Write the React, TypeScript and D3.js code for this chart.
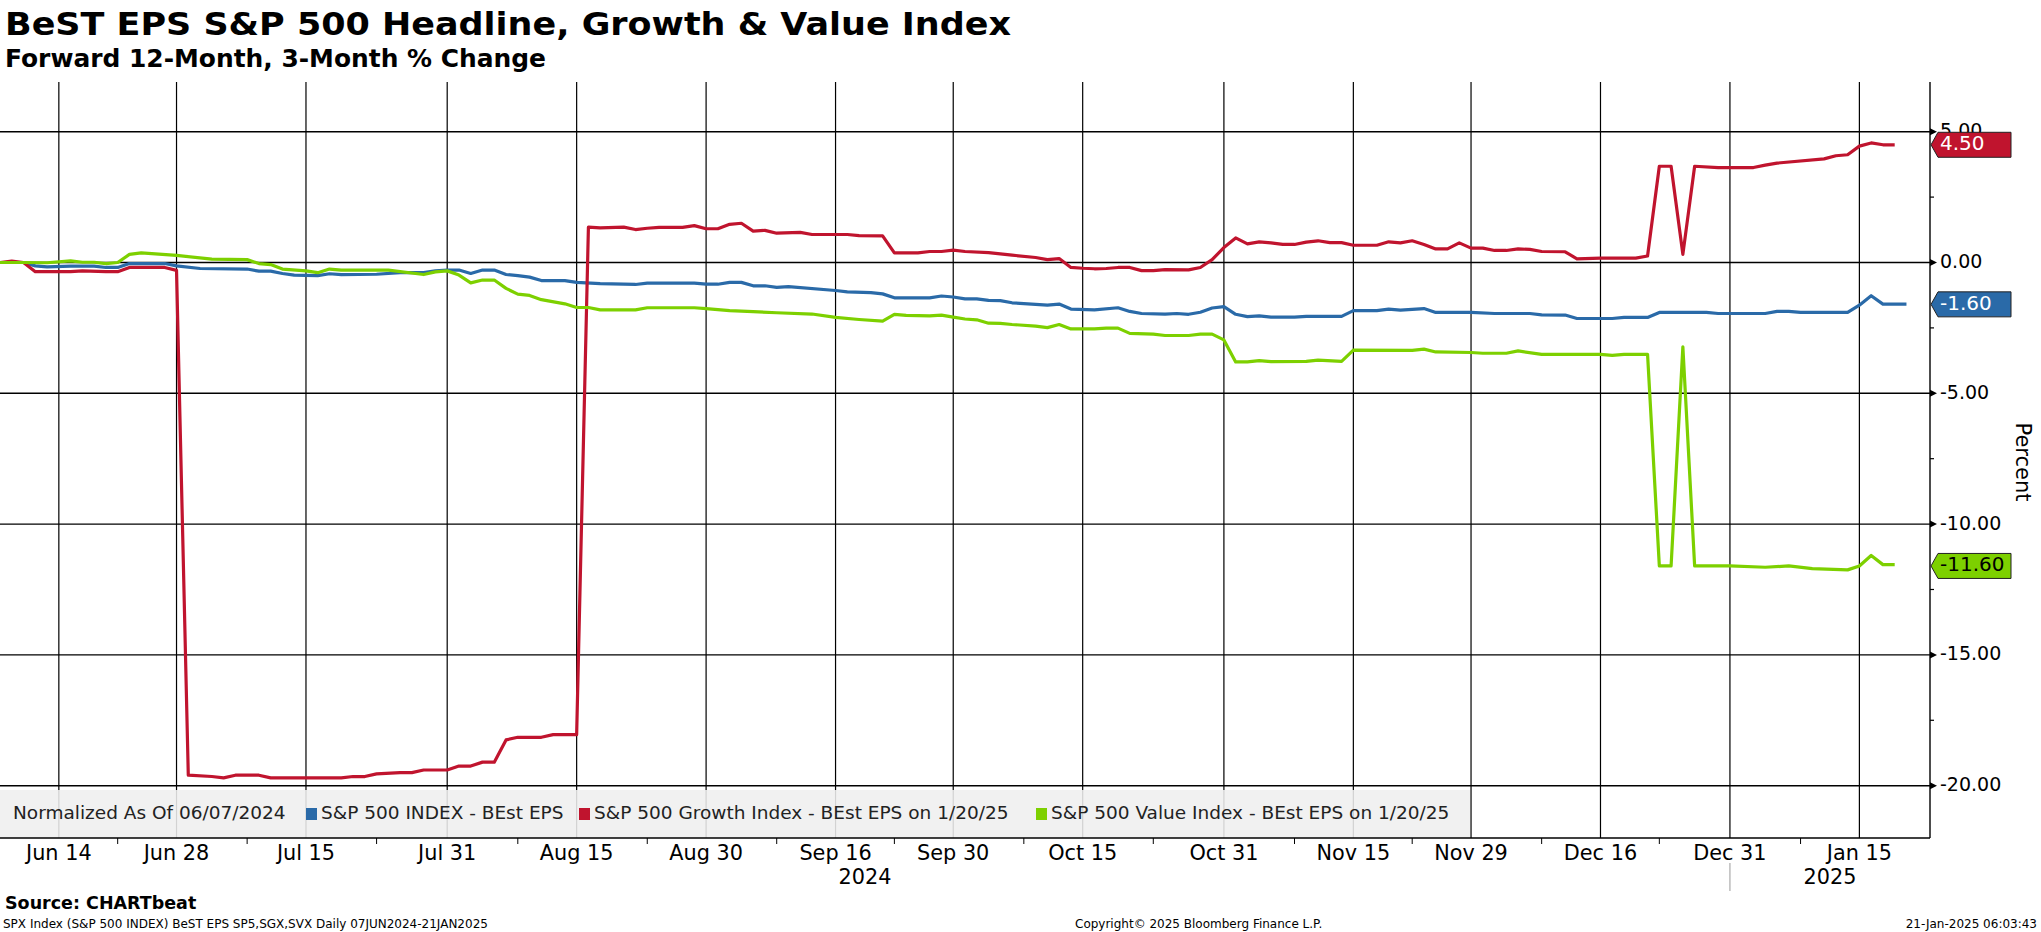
import { useEffect, useRef } from 'react';
import * as d3 from 'd3';

const WIDTH = 2041;
const HEIGHT = 932;
const FONT = '"DejaVu Sans", Verdana, sans-serif';

// axis calendar (weekdays only, like the terminal chart)
const firstDay = '2024-06-07';
const lastDay = '2025-01-21';
const axisEndIndex = 164;

const majorTickDates = [
    '2024-06-14', '2024-06-28', '2024-07-15', '2024-07-31', '2024-08-15', '2024-08-30', '2024-09-16',
    '2024-09-30', '2024-10-15', '2024-10-31', '2024-11-15', '2024-11-29', '2024-12-16', '2024-12-31', '2025-01-15',
];
const majorTickLabels = [
    'Jun 14', 'Jun 28', 'Jul 15', 'Jul 31', 'Aug 15', 'Aug 30', 'Sep 16',
    'Sep 30', 'Oct 15', 'Oct 31', 'Nov 15', 'Nov 29', 'Dec 16', 'Dec 31', 'Jan 15',
];
const minorTickDates = [
    '2024-06-21', '2024-07-08', '2024-07-23', '2024-08-08', '2024-08-23', '2024-09-09', '2024-09-23',
    '2024-10-08', '2024-10-23', '2024-11-08', '2024-11-22', '2024-12-09', '2024-12-23', '2025-01-08',
];
const yearLabels = ['2024', '2025'];
const yearBoundary = '2024-12-31';

const yMajorTicks = [5, 0, -5, -10, -15, -20];
const yMinorTicks = [2.5, -2.5, -7.5, -12.5, -17.5];

// S&P 500 INDEX - BEst EPS
const spxSeries: [string, number][] = [
    ['2024-06-07', 0], ['2024-06-11', 0], ['2024-06-12', -0.13], ['2024-06-13', -0.17], ['2024-06-17', -0.14],
    ['2024-06-19', -0.14], ['2024-06-20', -0.19], ['2024-06-21', -0.19], ['2024-06-24', -0.04], ['2024-06-27', -0.04],
    ['2024-06-28', -0.13], ['2024-07-02', -0.23], ['2024-07-08', -0.25], ['2024-07-09', -0.33], ['2024-07-10', -0.33],
    ['2024-07-11', -0.42], ['2024-07-12', -0.48], ['2024-07-16', -0.5], ['2024-07-17', -0.43], ['2024-07-18', -0.46],
    ['2024-07-23', -0.45], ['2024-07-25', -0.39], ['2024-07-29', -0.39], ['2024-07-30', -0.32], ['2024-07-31', -0.29],
    ['2024-08-01', -0.29], ['2024-08-02', -0.42], ['2024-08-05', -0.29], ['2024-08-06', -0.29], ['2024-08-07', -0.46],
    ['2024-08-08', -0.5], ['2024-08-09', -0.56], ['2024-08-12', -0.69], ['2024-08-14', -0.69], ['2024-08-15', -0.76],
    ['2024-08-19', -0.81], ['2024-08-22', -0.84], ['2024-08-23', -0.79], ['2024-08-29', -0.79], ['2024-08-30', -0.83],
    ['2024-09-02', -0.83], ['2024-09-03', -0.76], ['2024-09-04', -0.76], ['2024-09-05', -0.89], ['2024-09-06', -0.89],
    ['2024-09-09', -0.95], ['2024-09-10', -0.92], ['2024-09-16', -1.07], ['2024-09-17', -1.12], ['2024-09-19', -1.15],
    ['2024-09-20', -1.2], ['2024-09-23', -1.35], ['2024-09-26', -1.35], ['2024-09-27', -1.28], ['2024-09-30', -1.32],
    ['2024-10-01', -1.39], ['2024-10-02', -1.39], ['2024-10-03', -1.45], ['2024-10-04', -1.46], ['2024-10-07', -1.54],
    ['2024-10-10', -1.63], ['2024-10-11', -1.59], ['2024-10-14', -1.78], ['2024-10-16', -1.81], ['2024-10-18', -1.73],
    ['2024-10-21', -1.87], ['2024-10-22', -1.95], ['2024-10-24', -1.97], ['2024-10-25', -1.95], ['2024-10-28', -1.98],
    ['2024-10-29', -1.9], ['2024-10-30', -1.74], ['2024-10-31', -1.69], ['2024-11-01', -1.98], ['2024-11-04', -2.07],
    ['2024-11-05', -2.04], ['2024-11-06', -2.09], ['2024-11-08', -2.09], ['2024-11-11', -2.06], ['2024-11-14', -2.06],
    ['2024-11-15', -1.84], ['2024-11-19', -1.84], ['2024-11-20', -1.78], ['2024-11-21', -1.82], ['2024-11-25', -1.76],
    ['2024-11-26', -1.91], ['2024-11-29', -1.91], ['2024-12-03', -1.95], ['2024-12-06', -1.95], ['2024-12-09', -2.0],
    ['2024-12-11', -2.01], ['2024-12-12', -2.14], ['2024-12-17', -2.14], ['2024-12-18', -2.1], ['2024-12-20', -2.1],
    ['2024-12-23', -1.91], ['2024-12-27', -1.91], ['2024-12-30', -1.95], ['2025-01-03', -1.95], ['2025-01-06', -1.87],
    ['2025-01-07', -1.87], ['2025-01-08', -1.91], ['2025-01-14', -1.91], ['2025-01-15', -1.63], ['2025-01-16', -1.27],
    ['2025-01-17', -1.59], ['2025-01-21', -1.59],
];

// S&P 500 Growth Index - BEst EPS on 1/20/25
const growthSeries: [string, number][] = [
    ['2024-06-07', 0], ['2024-06-10', 0.05], ['2024-06-11', 0], ['2024-06-12', -0.35], ['2024-06-17', -0.35],
    ['2024-06-18', -0.32], ['2024-06-20', -0.35], ['2024-06-21', -0.35], ['2024-06-24', -0.19], ['2024-06-27', -0.19],
    ['2024-06-28', -0.3], ['2024-07-01', -19.6], ['2024-07-03', -19.65], ['2024-07-04', -19.7], ['2024-07-05', -19.6],
    ['2024-07-09', -19.6], ['2024-07-10', -19.7], ['2024-07-18', -19.7], ['2024-07-19', -19.65], ['2024-07-22', -19.65],
    ['2024-07-23', -19.55], ['2024-07-25', -19.5], ['2024-07-26', -19.5], ['2024-07-29', -19.4], ['2024-07-31', -19.4],
    ['2024-08-01', -19.25], ['2024-08-02', -19.25], ['2024-08-05', -19.1], ['2024-08-06', -19.1], ['2024-08-07', -18.25],
    ['2024-08-08', -18.15], ['2024-08-12', -18.15], ['2024-08-13', -18.05], ['2024-08-15', -18.05], ['2024-08-16', 1.35],
    ['2024-08-19', 1.32], ['2024-08-21', 1.35], ['2024-08-22', 1.26], ['2024-08-23', 1.31], ['2024-08-26', 1.34],
    ['2024-08-28', 1.34], ['2024-08-29', 1.41], ['2024-08-30', 1.29], ['2024-09-02', 1.29], ['2024-09-03', 1.46],
    ['2024-09-04', 1.5], ['2024-09-05', 1.2], ['2024-09-06', 1.23], ['2024-09-09', 1.12], ['2024-09-11', 1.15],
    ['2024-09-12', 1.07], ['2024-09-17', 1.07], ['2024-09-18', 1.03], ['2024-09-20', 1.02], ['2024-09-23', 0.37],
    ['2024-09-25', 0.37], ['2024-09-26', 0.42], ['2024-09-27', 0.42], ['2024-09-30', 0.47], ['2024-10-01', 0.42],
    ['2024-10-03', 0.38], ['2024-10-04', 0.33], ['2024-10-07', 0.28], ['2024-10-09', 0.19], ['2024-10-10', 0.11],
    ['2024-10-11', 0.15], ['2024-10-14', -0.19], ['2024-10-15', -0.22], ['2024-10-16', -0.24], ['2024-10-17', -0.23],
    ['2024-10-18', -0.19], ['2024-10-21', -0.19], ['2024-10-22', -0.31], ['2024-10-23', -0.31], ['2024-10-24', -0.27],
    ['2024-10-28', -0.28], ['2024-10-29', -0.19], ['2024-10-30', 0.11], ['2024-10-31', 0.57], ['2024-11-01', 0.94],
    ['2024-11-04', 0.71], ['2024-11-05', 0.79], ['2024-11-06', 0.75], ['2024-11-07', 0.69], ['2024-11-08', 0.69],
    ['2024-11-11', 0.78], ['2024-11-12', 0.83], ['2024-11-13', 0.76], ['2024-11-14', 0.76], ['2024-11-15', 0.66],
    ['2024-11-19', 0.66], ['2024-11-20', 0.79], ['2024-11-21', 0.75], ['2024-11-22', 0.83], ['2024-11-25', 0.69],
    ['2024-11-26', 0.52], ['2024-11-27', 0.52], ['2024-11-28', 0.75], ['2024-11-29', 0.55], ['2024-12-02', 0.55],
    ['2024-12-03', 0.46], ['2024-12-04', 0.46], ['2024-12-05', 0.52], ['2024-12-06', 0.5], ['2024-12-09', 0.42],
    ['2024-12-11', 0.41], ['2024-12-12', 0.14], ['2024-12-16', 0.17], ['2024-12-19', 0.17], ['2024-12-20', 0.25],
    ['2024-12-23', 3.68], ['2024-12-24', 3.68], ['2024-12-25', 0.31], ['2024-12-26', 3.68], ['2024-12-30', 3.63],
    ['2025-01-02', 3.63], ['2025-01-03', 3.72], ['2025-01-06', 3.8], ['2025-01-10', 3.96], ['2025-01-13', 4.08],
    ['2025-01-14', 4.12], ['2025-01-15', 4.45], ['2025-01-16', 4.57], ['2025-01-17', 4.5], ['2025-01-20', 4.5],
];

// S&P 500 Value Index - BEst EPS on 1/20/25
const valueSeries: [string, number][] = [
    ['2024-06-07', 0], ['2024-06-11', 0], ['2024-06-13', -0.01], ['2024-06-17', 0.06], ['2024-06-18', 0.01],
    ['2024-06-19', 0.01], ['2024-06-20', -0.04], ['2024-06-21', 0], ['2024-06-24', 0.31], ['2024-06-25', 0.37],
    ['2024-06-28', 0.27], ['2024-07-03', 0.13], ['2024-07-08', 0.11], ['2024-07-09', -0.04], ['2024-07-10', -0.08],
    ['2024-07-11', -0.25], ['2024-07-15', -0.32], ['2024-07-16', -0.39], ['2024-07-17', -0.25], ['2024-07-18', -0.29],
    ['2024-07-24', -0.29], ['2024-07-29', -0.46], ['2024-07-30', -0.36], ['2024-07-31', -0.32], ['2024-08-01', -0.48],
    ['2024-08-02', -0.78], ['2024-08-05', -0.67], ['2024-08-06', -0.67], ['2024-08-07', -0.99], ['2024-08-08', -1.21],
    ['2024-08-09', -1.26], ['2024-08-12', -1.42], ['2024-08-14', -1.58], ['2024-08-15', -1.72], ['2024-08-16', -1.72],
    ['2024-08-19', -1.81], ['2024-08-22', -1.81], ['2024-08-23', -1.73], ['2024-08-29', -1.73], ['2024-08-30', -1.76],
    ['2024-09-03', -1.84], ['2024-09-05', -1.88], ['2024-09-09', -1.92], ['2024-09-12', -1.97], ['2024-09-16', -2.1],
    ['2024-09-18', -2.18], ['2024-09-20', -2.24], ['2024-09-23', -1.98], ['2024-09-24', -2.02], ['2024-09-26', -2.04],
    ['2024-09-27', -2.01], ['2024-09-30', -2.09], ['2024-10-01', -2.16], ['2024-10-02', -2.19], ['2024-10-03', -2.32],
    ['2024-10-04', -2.33], ['2024-10-07', -2.37], ['2024-10-09', -2.43], ['2024-10-10', -2.49], ['2024-10-11', -2.37],
    ['2024-10-14', -2.54], ['2024-10-16', -2.54], ['2024-10-17', -2.51], ['2024-10-18', -2.51], ['2024-10-21', -2.71],
    ['2024-10-23', -2.74], ['2024-10-24', -2.79], ['2024-10-28', -2.79], ['2024-10-29', -2.74], ['2024-10-30', -2.74],
    ['2024-10-31', -2.96], ['2024-11-01', -3.8], ['2024-11-04', -3.8], ['2024-11-05', -3.75], ['2024-11-06', -3.79],
    ['2024-11-11', -3.78], ['2024-11-12', -3.73], ['2024-11-14', -3.78], ['2024-11-15', -3.35], ['2024-11-22', -3.36],
    ['2024-11-25', -3.31], ['2024-11-26', -3.42], ['2024-11-29', -3.44], ['2024-12-02', -3.47], ['2024-12-04', -3.47],
    ['2024-12-05', -3.38], ['2024-12-09', -3.51], ['2024-12-16', -3.51], ['2024-12-17', -3.55], ['2024-12-18', -3.51],
    ['2024-12-20', -3.51], ['2024-12-23', -11.6], ['2024-12-24', -11.6], ['2024-12-25', -3.22], ['2024-12-26', -11.6],
    ['2024-12-31', -11.6], ['2025-01-03', -11.65], ['2025-01-07', -11.6], ['2025-01-09', -11.7], ['2025-01-14', -11.75],
    ['2025-01-15', -11.6], ['2025-01-16', -11.2], ['2025-01-17', -11.55], ['2025-01-20', -11.55],
];

const seriesNames = [
    'S&P 500 INDEX - BEst EPS',
    'S&P 500 Growth Index - BEst EPS on 1/20/25',
    'S&P 500 Value Index - BEst EPS on 1/20/25',
];
const seriesColors = ['#2a6aa8', '#c0142e', '#7dd000'];
const tagValues = [-1.6, 4.5, -11.6];
const tagTextColors = ['#ffffff', '#ffffff', '#000000'];

export default function App() {
    const svgRef = useRef<SVGSVGElement>(null);

    useEffect(() => {
        if (!svgRef.current) return;
        d3.select(svgRef.current).selectAll('*').remove();
        const svg = d3.select(svgRef.current);

        const parse = d3.timeParse('%Y-%m-%d');
        const fmt = d3.timeFormat('%Y-%m-%d');
        const days = d3.timeDay
            .range(parse(firstDay)!, d3.timeDay.offset(parse(lastDay)!, 1))
            .filter(d => d.getDay() !== 0 && d.getDay() !== 6);
        const dayIndex = new Map(days.map((d, i) => [fmt(d), i]));
        const idx = (s: string) => dayIndex.get(s) ?? 0;

        const plotTop = 82;
        const plotBottom = 838;
        const plotRight = 1930;

        const x = d3.scaleLinear().domain([0, axisEndIndex]).range([0, plotRight]);
        const y = d3.scaleLinear().domain([-22, 6.9]).range([plotBottom, plotTop]);

        // titles
        svg.append('text').attr('x', 5).attr('y', 35)
            .attr('textLength', 1006).attr('lengthAdjust', 'spacingAndGlyphs')
            .style('font-family', FONT).style('font-weight', 'bold').style('font-size', '32px')
            .text('BeST EPS S&P 500 Headline, Growth & Value Index');
        svg.append('text').attr('x', 5).attr('y', 67)
            .attr('textLength', 541).attr('lengthAdjust', 'spacingAndGlyphs')
            .style('font-family', FONT).style('font-weight', 'bold').style('font-size', '24px')
            .text('Forward 12-Month, 3-Month % Change');

        // horizontal grid
        svg.append('g').selectAll('line').data(yMajorTicks).join('line')
            .attr('x1', 0).attr('x2', plotRight)
            .attr('y1', d => y(d)).attr('y2', d => y(d))
            .attr('stroke', '#000').attr('stroke-width', 1.4);

        // vertical grid
        svg.append('g').selectAll('line').data(majorTickDates).join('line')
            .attr('x1', d => x(idx(d))).attr('x2', d => x(idx(d)))
            .attr('y1', plotTop).attr('y2', plotBottom)
            .attr('stroke', '#000').attr('stroke-width', 1.2);

        // legend box
        const legendY = 790;
        svg.append('rect').attr('x', 0).attr('y', legendY).attr('width', 1470).attr('height', plotBottom - legendY)
            .attr('fill', '#efefef').attr('opacity', 0.88);
        const legendText = (tx: number, s: string) => svg.append('text')
            .attr('x', tx).attr('y', 814).attr('dominant-baseline', 'middle')
            .style('font-family', FONT).style('font-size', '18.5px').style('fill', '#222')
            .text(s);
        legendText(13, 'Normalized As Of 06/07/2024');
        const legendX = [306, 579, 1036];
        seriesNames.forEach((name, i) => {
            svg.append('rect').attr('x', legendX[i]).attr('y', 808).attr('width', 11).attr('height', 12)
                .attr('fill', seriesColors[i]);
            legendText(legendX[i] + 15, name);
        });

        // series lines
        const line = d3.line<[string, number]>()
            .x(d => x(idx(d[0])))
            .y(d => y(d[1]));
        [spxSeries, growthSeries, valueSeries].forEach((s, i) => {
            svg.append('path').datum(s)
                .attr('d', line)
                .attr('fill', 'none')
                .attr('stroke', seriesColors[i])
                .attr('stroke-width', 3.2)
                .attr('stroke-linejoin', 'round');
        });

        // x axis
        svg.append('line').attr('x1', 0).attr('x2', plotRight).attr('y1', plotBottom).attr('y2', plotBottom)
            .attr('stroke', '#000').attr('stroke-width', 1.4);
        svg.append('g').selectAll('line').data(minorTickDates).join('line')
            .attr('x1', d => x(idx(d))).attr('x2', d => x(idx(d)))
            .attr('y1', plotBottom).attr('y2', plotBottom + 6)
            .attr('stroke', '#000').attr('stroke-width', 1);
        svg.append('g').selectAll('text').data(majorTickDates).join('text')
            .attr('x', d => x(idx(d))).attr('y', 860)
            .attr('text-anchor', 'middle')
            .style('font-family', FONT).style('font-size', '20.8px')
            .text((d, i) => majorTickLabels[i]);
        const yb = idx(yearBoundary);
        const yearMid = [yb / 2, (yb + axisEndIndex) / 2];
        yearLabels.forEach((label, i) => {
            svg.append('text').attr('x', x(yearMid[i])).attr('y', 884).attr('text-anchor', 'middle')
                .style('font-family', FONT).style('font-size', '20.8px').text(label);
        });
        svg.append('line').attr('x1', x(yb)).attr('x2', x(yb)).attr('y1', 863).attr('y2', 891)
            .attr('stroke', '#999').attr('stroke-width', 1);

        // right y axis
        svg.append('line').attr('x1', plotRight).attr('x2', plotRight).attr('y1', plotTop).attr('y2', plotBottom)
            .attr('stroke', '#000').attr('stroke-width', 1.4);
        svg.append('g').selectAll('line').data(yMinorTicks).join('line')
            .attr('x1', plotRight).attr('x2', plotRight + 4)
            .attr('y1', d => y(d)).attr('y2', d => y(d))
            .attr('stroke', '#000').attr('stroke-width', 1.2);
        svg.append('g').selectAll('path').data(yMajorTicks).join('path')
            .attr('d', d => `M${plotRight},${y(d) - 3.5}L${plotRight + 7},${y(d)}L${plotRight},${y(d) + 3.5}Z`)
            .attr('fill', '#000');
        svg.append('g').selectAll('text').data(yMajorTicks).join('text')
            .attr('x', plotRight + 10).attr('y', d => y(d)).attr('dominant-baseline', 'middle')
            .style('font-family', FONT).style('font-size', '19px')
            .text(d => d.toFixed(2));
        svg.append('text')
            .attr('transform', `translate(2016, 462) rotate(90)`)
            .attr('text-anchor', 'middle')
            .style('font-family', FONT).style('font-size', '21px')
            .text('Percent');

        // last value tags
        tagValues.forEach((v, i) => {
            const ty = y(v);
            const g = svg.append('g');
            const poly = g.append('path');
            const t = g.append('text').attr('x', plotRight + 10).attr('y', ty).attr('dominant-baseline', 'middle')
                .style('font-family', FONT).style('font-size', '20px').style('fill', tagTextColors[i])
                .text(v.toFixed(2));
            const tw = (t.node() as SVGTextElement).getComputedTextLength();
            const right = Math.max(2011, plotRight + 10 + tw + 6);
            poly.attr('d', `M${plotRight + 1},${ty}L${plotRight + 8},${ty - 12.5}L${right},${ty - 12.5}L${right},${ty + 12.5}L${plotRight + 8},${ty + 12.5}Z`)
                .attr('fill', seriesColors[i]).attr('stroke', '#222').attr('stroke-width', 1);
        });

        // footer
        svg.append('text').attr('x', 5).attr('y', 909)
            .style('font-family', FONT).style('font-weight', 'bold').style('font-size', '17.5px')
            .text('Source: CHARTbeat');
        const foot = (fx: number, s: string, anchor: string) => svg.append('text')
            .attr('x', fx).attr('y', 928).attr('text-anchor', anchor)
            .style('font-family', FONT).style('font-size', '12px')
            .text(s);
        foot(3, 'SPX Index (S&P 500 INDEX) BeST EPS SP5,SGX,SVX  Daily 07JUN2024-21JAN2025', 'start');
        foot(1075, 'Copyright\u00a9 2025 Bloomberg Finance L.P.', 'start');
        foot(2037, '21-Jan-2025 06:03:43', 'end');
    }, []);

    return (
        <svg ref={svgRef} width={WIDTH} height={HEIGHT}
            style={{ position: 'absolute', left: 0, top: 0, background: '#fff' }} />
    );
}
